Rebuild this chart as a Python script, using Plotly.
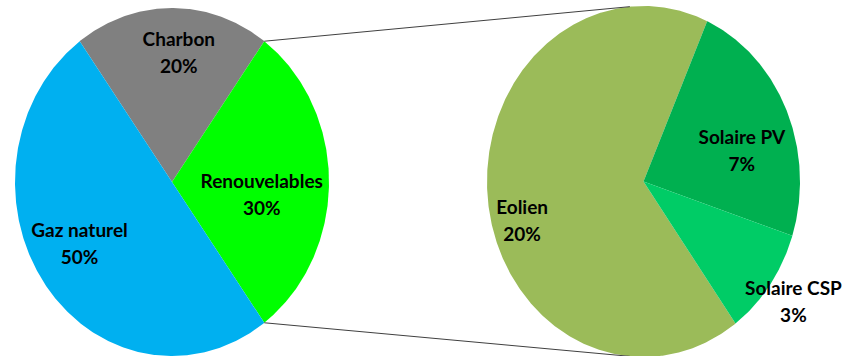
import math
import plotly.graph_objects as go

# ---- data ----
main_labels = ["Charbon", "Renouvelables", "Gaz naturel"]
main_values = [20, 30, 50]
main_colors = ["#808080", "#00FF00", "#00B0F0"]

sub_labels = ["Eolien", "Solaire PV", "Solaire CSP"]
sub_values = [20, 7, 3]
sub_colors = ["#9BBB59", "#00B050", "#00CC66"]

# ---- layout geometry (pixels) ----
W, H = 842, 356
L = dict(cx=172, cy=182, rx=157, ry=174, start=-36)      # main pie
R = dict(cx=643.5, cy=181.5, rx=156.5, ry=175.5)        # secondary pie
# label placement: (angle offset from slice mid, radius fraction)
main_lab_pos = [(3.4, 0.734), (8.6, 0.578), (4.0, 0.694)]
sub_lab_pos = [(-11.0, 0.811), (9.3, 0.650), (0.0, 1.184)]
FONT = "Lato, Roboto, sans-serif"
FSIZE = 19
LINE_GAP = 13.5


def pt(p, ang, r=1.0):
    a = math.radians(ang)
    return p["cx"] + r * p["rx"] * math.sin(a), p["cy"] - r * p["ry"] * math.cos(a)


def wedges(fig, p, values, colors, start):
    tot = sum(values)
    angs = []
    a0 = start
    for v, c in zip(values, colors):
        a1 = a0 + 360.0 * v / tot
        n = max(8, int((a1 - a0) * 2))
        xs, ys = [p["cx"]], [p["cy"]]
        for i in range(n + 1):
            x, y = pt(p, a0 + (a1 - a0) * i / n)
            xs.append(x)
            ys.append(y)
        xs.append(p["cx"])
        ys.append(p["cy"])
        fig.add_trace(go.Scatter(x=xs, y=ys, mode="lines", fill="toself",
                                 fillcolor=c, line=dict(width=0, color=c),
                                 hoverinfo="skip", showlegend=False))
        angs.append((a0, a1))
        a0 = a1
    return angs


def labels(fig, p, names, values, angs, lpos):
    xs, ys, t1, t2 = [], [], [], []
    for (a0, a1), (off, r), nm, v in zip(angs, lpos, names, values):
        x, y = pt(p, (a0 + a1) / 2 + off, r)
        xs.append(x)
        ys.append(y)
        t1.append(nm)
        t2.append(f"{v}%")
    for dy, txt in [(-LINE_GAP, t1), (LINE_GAP, t2)]:
        fig.add_trace(go.Scatter(x=xs, y=[y + dy for y in ys], mode="text", text=txt,
                                 textposition="middle center", cliponaxis=False,
                                 textfont=dict(family=FONT, size=FSIZE, color="#000000",
                                               weight="bold"),
                                 hoverinfo="skip", showlegend=False))


fig = go.Figure()
main_angs = wedges(fig, L, main_values, main_colors, L["start"])
ren_a0, ren_a1 = main_angs[1]
# secondary pie starts where the exploded slice ends
sub_angs = wedges(fig, R, sub_values, sub_colors, ren_a1)

# connector lines
for la, ra in [(ren_a0, -5), (ren_a1, 185)]:
    x0, y0 = pt(L, la)
    x1, y1 = pt(R, ra)
    fig.add_trace(go.Scatter(x=[x0, x1], y=[y0, y1], mode="lines",
                             line=dict(color="#404040", width=1),
                             hoverinfo="skip", showlegend=False))

labels(fig, L, main_labels, main_values, main_angs, main_lab_pos)
labels(fig, R, sub_labels, sub_values, sub_angs, sub_lab_pos)

fig.update_layout(
    width=W, height=H,
    margin=dict(l=0, r=0, t=0, b=0),
    paper_bgcolor="white", plot_bgcolor="white",
    xaxis=dict(range=[0, W], visible=False, fixedrange=True),
    yaxis=dict(range=[H, 0], visible=False, fixedrange=True),
    showlegend=False,
)
fig.write_html("out.html")
